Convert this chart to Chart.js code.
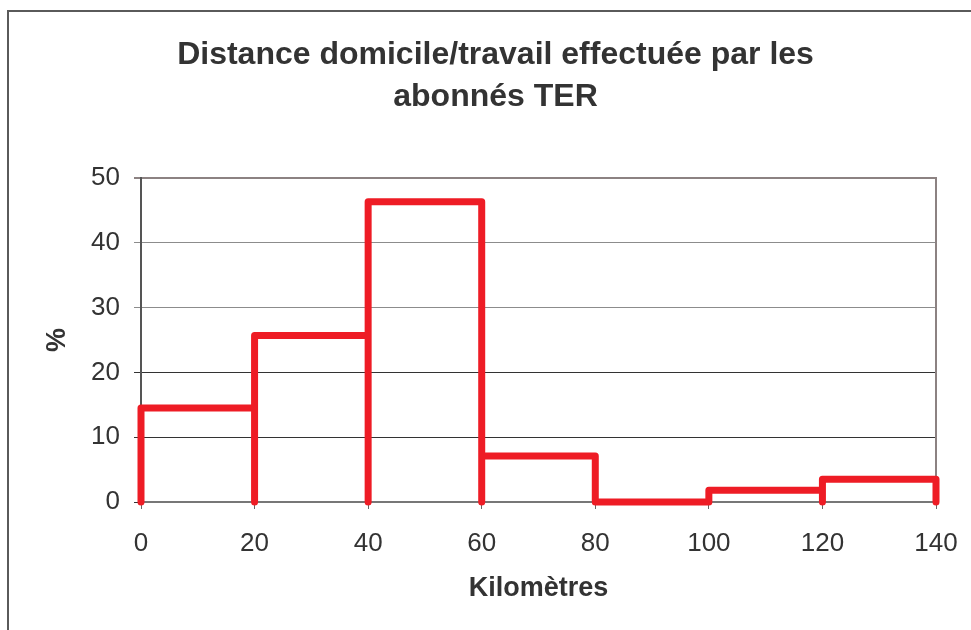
<!DOCTYPE html>
<html>
<head>
<meta charset="utf-8">
<script src="https://cdn.jsdelivr.net/npm/chart.js@4.4.1/dist/chart.umd.min.js"></script>
<style>
  html, body { margin: 0; padding: 0; background: #fff; overflow: hidden; width: 971px; height: 630px; }
  #frame { position: absolute; left: 7px; top: 10px; width: 1000px; height: 1000px; border: 2px solid #5a5a5a; }
  #wrap { position: absolute; left: 0; top: 0; width: 971px; height: 630px; }
</style>
</head>
<body>
<div id="frame"></div>
<div id="wrap"><canvas id="c" width="971" height="630"></canvas></div>
<script>
// ---- data ----
const titleLines = ['Distance domicile/travail effectuée par les', 'abonnés TER'];
const xTitle = 'Kilomètres';
const yTitle = '%';
const binEdges = [0, 20, 40, 60, 80, 100, 120, 140];
const percents = [14.5, 25.7, 46.3, 7.1, 0, 1.8, 3.5];
const yTicks = [0, 10, 20, 30, 40, 50];
const xTicks = [0, 20, 40, 60, 80, 100, 120, 140];

// build outline path of histogram bars from the arrays
const points = [];
percents.forEach((v, i) => {
  points.push({x: binEdges[i], y: 0});
  points.push({x: binEdges[i], y: v});
  points.push({x: binEdges[i + 1], y: v});
  points.push({x: binEdges[i + 1], y: 0});
});

const FONT = "'Liberation Sans', Arial, sans-serif";
const TXT = '#333333';

new Chart(document.getElementById('c'), {
  type: 'line',
  data: {
    datasets: [{
      data: points,
      borderColor: '#ee1c25',
      borderWidth: 7,
      pointRadius: 0,
      fill: false,
      tension: 0,
      borderCapStyle: 'round',
      borderJoinStyle: 'round',
      clip: false
    }]
  },
  options: {
    responsive: false,
    animation: false,
    devicePixelRatio: 1,
    layout: { padding: { left: 20, right: 0, top: 0, bottom: 0 } },
    plugins: {
      legend: { display: false },
      tooltip: { enabled: false },
      title: {
        display: true,
        text: titleLines,
        color: TXT,
        font: { family: FONT, size: 32, weight: 'bold', lineHeight: 1.31 },
        padding: { top: 34, bottom: 60 }
      }
    },
    scales: {
      x: {
        type: 'linear',
        min: 0, max: 140,
        afterBuildTicks: (s) => { s.ticks = xTicks.map(v => ({value: v})); },
        afterFit: (s) => { s.height = 128; s.paddingLeft = 0; s.paddingRight = 0; },
        ticks: { color: TXT, font: { family: FONT, size: 26 }, padding: 19, maxRotation: 0 },
        grid: { drawOnChartArea: false, drawTicks: true, tickLength: 7, color: '#666' },
        border: { display: true, color: '#777', width: 2 },
        title: { display: true, text: xTitle, color: TXT, font: { family: FONT, size: 27, weight: 'bold' }, padding: { top: 0, bottom: 25 } }
      },
      y: {
        type: 'linear',
        min: 0, max: 50,
        afterBuildTicks: (s) => { s.ticks = yTicks.map(v => ({value: v})); },
        afterFit: (s) => { s.width = 121; },
        ticks: { color: TXT, font: { family: FONT, size: 26 }, padding: 14 },
        grid: {
          tickLength: 7,
          color: (ctx) => {
            const v = ctx.tick ? ctx.tick.value : 0;
            if (v === 50) return '#8c8282';
            if (v >= 30) return '#8c8c8c';
            return '#333333';
          },
          lineWidth: (ctx) => (ctx.tick && ctx.tick.value === 50 ? 2 : 1)
        },
        border: { display: true, color: '#555', width: 2 },
        title: { display: true, text: yTitle, color: TXT, font: { family: FONT, size: 27, weight: 'bold' }, padding: { top: 21, bottom: 0 } }
      },
      y2: {
        type: 'linear',
        position: 'right',
        min: 0, max: 50,
        afterFit: (s) => { s.width = 35; },
        ticks: { display: false },
        grid: { drawOnChartArea: false, drawTicks: false },
        border: { display: true, color: '#8c8282', width: 2 }
      }
    }
  }
});
</script>
</body>
</html>
